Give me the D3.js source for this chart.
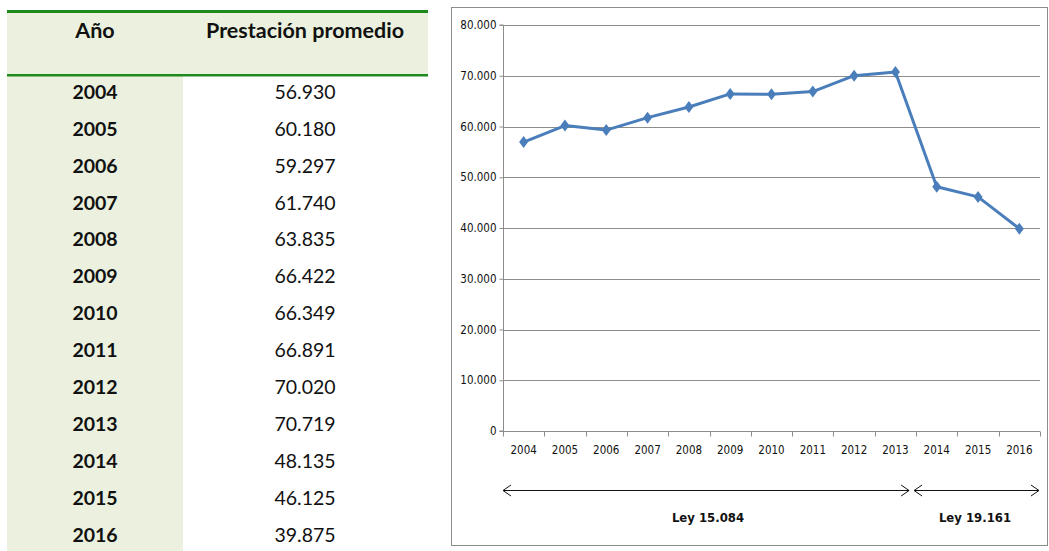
<html>
<head>
<meta charset="utf-8">
<script src="https://d3js.org/d3.v7.min.js"></script>
<style>
  body { margin: 0; background: #fff; }
  .tbl { font-family: Lato, "Open Sans", sans-serif; }
  .chart text { font-family: "DejaVu Sans Condensed", "Liberation Sans Narrow", sans-serif; }
</style>
</head>
<body>
<svg id="fig" width="1049" height="551"></svg>
<script>
var years = ["2004","2005","2006","2007","2008","2009","2010","2011","2012","2013","2014","2015","2016"];
var values = [56930, 60180, 59297, 61740, 63835, 66422, 66349, 66891, 70020, 70719, 48135, 46125, 39875];
var valueLabels = ["56.930","60.180","59.297","61.740","63.835","66.422","66.349","66.891","70.020","70.719","48.135","46.125","39.875"];
var header = ["Año", "Prestación promedio"];
var yTicks = [0, 10000, 20000, 30000, 40000, 50000, 60000, 70000, 80000];
var laws = [{name: "Ley 15.084", from: "2004", to: "2013"}, {name: "Ley 19.161", from: "2014", to: "2016"}];

var svg = d3.select("#fig");
var green = "#1e8a1e", light = "#ebf1de";

// ---- table
var tbl = svg.append("g").attr("class", "tbl");
var rowY = d3.scaleLinear().domain([0, years.length - 1]).range([92, 535]);

tbl.append("rect").attr("x", 7).attr("y", 12).attr("width", 421).attr("height", 63).attr("fill", light);
tbl.append("rect").attr("x", 7).attr("y", 76).attr("width", 176).attr("height", 475).attr("fill", light);
tbl.append("rect").attr("x", 7).attr("y", 10).attr("width", 421).attr("height", 3).attr("fill", green);
tbl.append("rect").attr("x", 7).attr("y", 74).attr("width", 421).attr("height", 2.5).attr("fill", green);

tbl.selectAll(".hd").data(header).enter().append("text")
  .attr("x", function(d, i) { return i == 0 ? 95 : 305; })
  .attr("y", 30).attr("dy", "0.35em")
  .attr("text-anchor", "middle").attr("font-weight", "bold").attr("font-size", 21.5)
  .attr("fill", "#111").text(function(d) { return d; });

tbl.selectAll(".yr").data(years).enter().append("text")
  .attr("x", 95).attr("y", function(d, i) { return rowY(i); }).attr("dy", "0.35em")
  .attr("text-anchor", "middle").attr("font-weight", "bold").attr("font-size", 19.5)
  .attr("fill", "#111").text(function(d) { return d; });

tbl.selectAll(".val").data(valueLabels).enter().append("text")
  .attr("x", 305).attr("y", function(d, i) { return rowY(i); }).attr("dy", "0.35em")
  .attr("text-anchor", "middle").attr("font-size", 19.5)
  .attr("fill", "#111").text(function(d) { return d; });

// ---- chart
var ch = svg.append("g").attr("class", "chart");
ch.append("rect").attr("x", 451.5).attr("y", 7.5).attr("width", 596).attr("height", 538)
  .attr("fill", "#fff").attr("stroke", "#8c8c8c").attr("stroke-width", 1);

var x = d3.scaleBand().domain(years).range([503, 1040]).padding(0);
var y = d3.scaleLinear().domain([0, 80000]).range([431, 25]);
var fmt = function(v) { return v == 0 ? "0" : d3.format(",")(v).replace(/,/g, "."); };

ch.selectAll(".grid").data(yTicks.slice(1)).enter().append("line")
  .attr("x1", 503).attr("x2", 1040)
  .attr("y1", function(d) { return Math.round(y(d)) + 0.5; })
  .attr("y2", function(d) { return Math.round(y(d)) + 0.5; })
  .attr("stroke", "#8c8c8c").attr("stroke-width", 1);

var yAxis = d3.axisLeft(y).tickValues(yTicks).tickFormat(fmt).tickSize(4).tickPadding(3);
var gy = ch.append("g").attr("transform", "translate(503.5,0)").call(yAxis);
gy.select(".domain").attr("stroke", "#8c8c8c").attr("d", "M-4," + y(80000) + "H0V" + y(0) + "H-4");
gy.selectAll(".tick line").attr("stroke", "#8c8c8c");
gy.selectAll("text").attr("font-size", 11.5).attr("fill", "#111");

var xAxis = d3.axisBottom(x).tickSize(0).tickPadding(14);
var gx = ch.append("g").attr("transform", "translate(0,431.5)").call(xAxis);
gx.select(".domain").attr("stroke", "#8c8c8c").attr("d", "M503,0H1040");
gx.selectAll("text").attr("font-size", 11.5).attr("fill", "#111");
gx.selectAll(".bnd").data(years.concat(["end"])).enter().append("line")
  .attr("x1", function(d, i) { return Math.round(503 + i * x.bandwidth()) + 0.5; })
  .attr("x2", function(d, i) { return Math.round(503 + i * x.bandwidth()) + 0.5; })
  .attr("y1", 0).attr("y2", 5).attr("stroke", "#8c8c8c");

var line = d3.line()
  .x(function(d, i) { return x(years[i]) + x.bandwidth() / 2; })
  .y(function(d) { return y(d); });

ch.append("path").datum(values).attr("d", line)
  .attr("fill", "none").attr("stroke", "#4a7ebb").attr("stroke-width", 3).attr("stroke-linejoin", "round");

ch.selectAll(".mk").data(values).enter().append("path")
  .attr("d", "M0,-6L4.5,0L0,6L-4.5,0Z")
  .attr("transform", function(d, i) { return "translate(" + (x(years[i]) + x.bandwidth() / 2) + "," + y(d) + ")"; })
  .attr("fill", "#4a7ebb");

// law arrows
var ay = 490;
laws.forEach(function(l, i) {
  var x1 = x(l.from) + (i == 0 ? 0 : -2), x2 = x(l.to) + x.bandwidth() - (i == 0 ? 7 : 1);
  ch.append("line").attr("x1", x1).attr("x2", x2).attr("y1", ay + 0.5).attr("y2", ay + 0.5)
    .attr("stroke", "#111").attr("stroke-width", 1);
  ch.append("path").attr("d", "M" + (x1 + 8) + "," + (ay - 5) + "L" + x1 + "," + (ay + 0.5) + "L" + (x1 + 8) + "," + (ay + 6))
    .attr("fill", "none").attr("stroke", "#111");
  ch.append("path").attr("d", "M" + (x2 - 8) + "," + (ay - 5) + "L" + x2 + "," + (ay + 0.5) + "L" + (x2 - 8) + "," + (ay + 6))
    .attr("fill", "none").attr("stroke", "#111");
  ch.append("text").attr("x", i == 0 ? 708 : 975).attr("y", 517).attr("dy", "0.35em")
    .attr("text-anchor", "middle").attr("font-weight", "bold").attr("font-size", 13)
    .attr("fill", "#111").text(l.name);
});
</script>
</body>
</html>
